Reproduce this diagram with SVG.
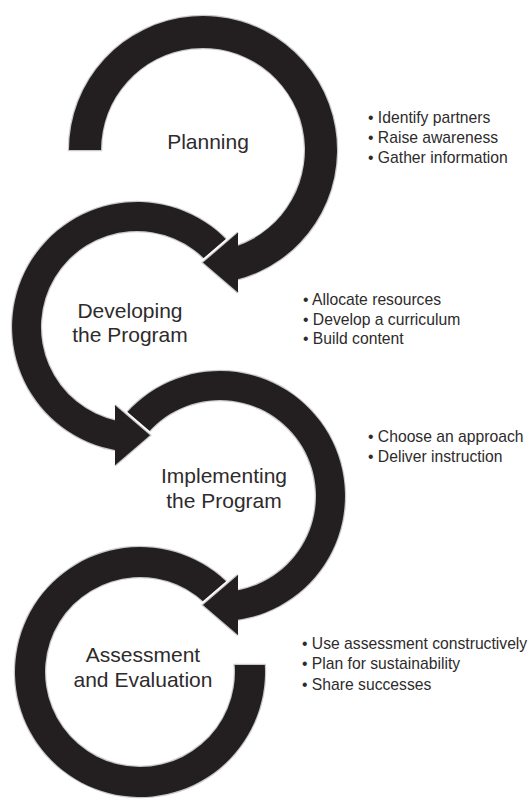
<svg xmlns="http://www.w3.org/2000/svg" width="529" height="799" viewBox="0 0 529 799">
<style>
.arc{fill:#231f20;stroke:#c9c9c9;stroke-width:2.5;paint-order:stroke}
.gap{fill:none;stroke:#fff;stroke-width:6;stroke-linejoin:miter;stroke-miterlimit:10}
.halo{fill:none;stroke:#c9c9c9;stroke-width:2.5;stroke-linejoin:miter;stroke-miterlimit:10}
.head{fill:#231f20}
.label{font-family:"Liberation Sans",Arial,sans-serif;font-size:21px;fill:#2e2b2c;text-anchor:middle}
.item{font-family:"Liberation Sans",Arial,sans-serif;font-size:15.7px;fill:#2e2b2c}
</style>
<rect width="529" height="799" fill="#fff"/>
<g id="connectors">
  <path id="arc-planning" class="arc" d="M69,150 A134,134 0 1 1 236,279.87 L236,246.51 A102,102 0 1 0 101,150 Z"/>
  <path id="arc-developing" class="arc" d="M232.8,246.6 A125,125 0 1 0 117,450.39 L117,420.89 A96,96 0 1 1 210.5,265.3 Z"/>
  <path id="arc-implementing" class="arc" d="M121.5,419 A125,125 0 1 1 236,619.97 L236,590.66 A96,96 0 1 0 144.35,436.9 Z"/>
  <path id="arc-assessment" class="arc" d="M235.75,591.65 A125,125 0 1 0 264.8,665 L234.74,665 A95,95 0 1 1 212.77,610.94 Z"/>
  <g id="head-planning">
    <path class="gap" d="M238,232.6 L203,262.6 L238,292.6"/>
    <path class="halo" d="M238,232.6 L203,262.6 L238,292.6"/>
    <polygon class="head" points="238,232.6 203,262.6 238,292.6"/>
  </g>
  <g id="head-developing">
    <path class="gap" d="M115,405.25 L150,435.25 L115,465.25"/>
    <path class="halo" d="M115,405.25 L150,435.25 L115,465.25"/>
    <polygon class="head" points="115,405.25 150,435.25 115,465.25"/>
  </g>
  <g id="head-implementing">
    <path class="gap" d="M238,575 L203,605 L238,635"/>
    <path class="halo" d="M238,575 L203,605 L238,635"/>
    <polygon class="head" points="238,575 203,605 238,635"/>
  </g>
</g>
<g id="node-planning">
  <text class="label" x="208" y="149">Planning</text>
  <text class="item" x="368" y="123">• Identify partners</text>
  <text class="item" x="368" y="143">• Raise awareness</text>
  <text class="item" x="368" y="163">• Gather information</text>
</g>
<g id="node-developing">
  <text class="label" x="130" y="318">Developing</text>
  <text class="label" x="130" y="342">the Program</text>
  <text class="item" x="303" y="305">• Allocate resources</text>
  <text class="item" x="303" y="325">• Develop a curriculum</text>
  <text class="item" x="303" y="344">• Build content</text>
</g>
<g id="node-implementing">
  <text class="label" x="224" y="483">Implementing</text>
  <text class="label" x="224" y="508">the Program</text>
  <text class="item" x="368" y="442">• Choose an approach</text>
  <text class="item" x="368" y="462">• Deliver instruction</text>
</g>
<g id="node-assessment">
  <text class="label" x="143" y="662">Assessment</text>
  <text class="label" x="143" y="687">and Evaluation</text>
  <text class="item" x="302" y="649">• Use assessment constructively</text>
  <text class="item" x="302" y="669">• Plan for sustainability</text>
  <text class="item" x="302" y="690">• Share successes</text>
</g>
</svg>
